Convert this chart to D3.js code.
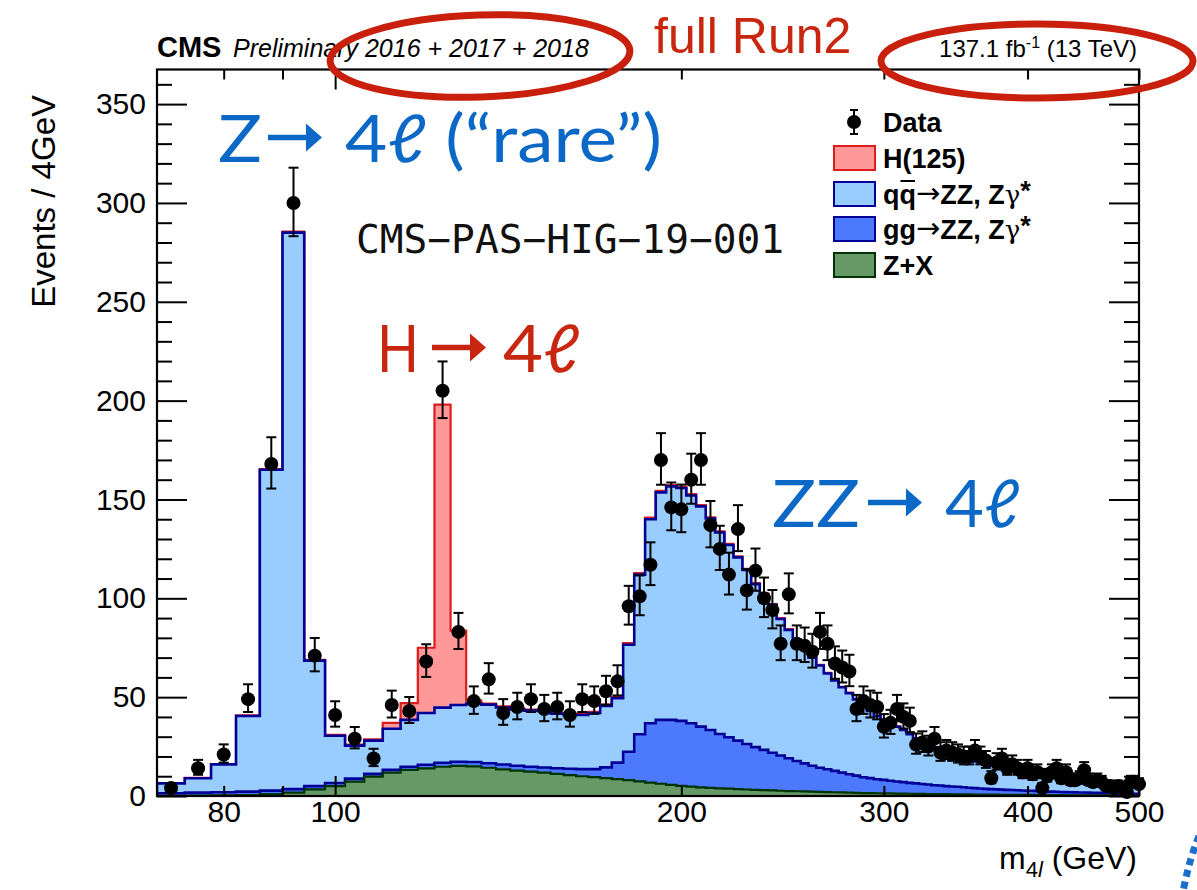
<!DOCTYPE html>
<html>
<head>
<meta charset="utf-8">
<script src="https://cdn.jsdelivr.net/npm/d3@7"></script>
<style>
  html, body { margin: 0; padding: 0; background: #ffffff; }
  svg { display: block; }
</style>
</head>
<body>
<svg id="chart" width="1197" height="890" font-family="'Liberation Sans', Arial, Helvetica, sans-serif"></svg>
<script>
// m4l histogram: 4 GeV bins starting at 70 GeV (108 bins, last one ends past 500)
const binLow = 70;
const binWidth = 4;

// Observed events per bin
const dataCounts = [
  4, 14, 21, 49, 168, 300, 71, 41, 29, 19,
  46, 43, 68, 205, 83, 48, 59, 42, 45, 49,
  44, 45, 41, 49, 48, 53, 58, 96, 101, 117,
  170, 146, 145, 160, 170, 137, 125, 112, 135, 104,
  114, 100, 94, 77, 102, 77, 76, 73, 83, 77,
  67, 65, 63, 44, 48, 46, 45, 35, 37, 44,
  40, 38, 26, 27, 25, 29, 22, 23, 22, 21,
  20, 20, 23, 20, 18, 9, 17, 19, 14, 16,
  14, 12, 14, 11, 12, 4, 10, 12, 14, 9,
  12, 8, 8, 9, 13, 8, 7, 8, 7, 5,
  5, 4, 5, 4, 2, 7, 7, 6
];

// Expected yields per process and bin
const zxYield = [
  0.1, 0.2, 0.3, 0.5, 0.9, 1.7, 3.4, 5.0, 7.3, 9.8,
  11.8, 13.2, 14.0, 14.8, 15.2, 15.0, 14.3, 13.5, 12.8, 12.3,
  11.8, 11.2, 10.6, 10.0, 9.5, 9.0, 8.5, 8.0, 7.4, 6.8,
  6.2, 5.6, 5.1, 4.7, 4.4, 4.1, 3.9, 3.7, 3.5, 3.3,
  3.1, 2.95, 2.8, 2.65, 2.5, 2.4, 2.3, 2.2, 2.1, 2.0,
  1.9, 1.8, 1.7, 1.6, 1.5, 1.45, 1.4, 1.35, 1.3, 1.25,
  1.2, 1.15, 1.1, 1.05, 1.0, 0.97, 0.94, 0.91, 0.88, 0.85,
  0.82, 0.79, 0.76, 0.73, 0.7, 0.68, 0.66, 0.64, 0.62, 0.6,
  0.58, 0.56, 0.54, 0.52, 0.5, 0.48, 0.46, 0.44, 0.42, 0.4,
  0.39, 0.38, 0.37, 0.36, 0.35, 0.34, 0.33, 0.32, 0.31, 0.3,
  0.29, 0.28, 0.27, 0.26, 0.25, 0.24, 0.23, 0.22
];

const ggYield = [
  1.3, 1.5, 1.6, 1.7, 1.8, 1.8, 1.6, 1.6, 1.5, 1.4,
  1.5, 1.6, 1.8, 2.0, 2.1, 2.2, 2.3, 2.4, 2.5, 2.5,
  2.6, 2.8, 3.2, 3.6, 4.1, 5.5, 8.4, 14.4, 23.8, 30.0,
  32.3, 32.9, 32.9, 32.1, 30.7, 29.3, 27.5, 26.0, 24.5, 23.0,
  21.6, 20.4, 19.1, 17.8, 16.6, 15.3, 14.2, 13.1, 12.2, 11.5,
  10.8, 10.0, 9.3, 8.7, 8.0, 7.6, 7.1, 6.8, 6.4, 6.1,
  5.8, 5.5, 5.3, 5.0, 4.8, 4.5, 4.4, 4.1, 3.9, 3.8,
  3.6, 3.4, 3.2, 3.1, 2.9, 2.8, 2.7, 2.6, 2.5, 2.4,
  2.3, 2.2, 2.15, 2.1, 2.0, 1.95, 1.85, 1.75, 1.7, 1.6,
  1.55, 1.5, 1.48, 1.44, 1.4, 1.36, 1.32, 1.28, 1.24, 1.2,
  1.16, 1.12, 1.08, 1.04, 1.0, 0.96, 0.92, 0.88
];

const qqYield = [
  5.0, 7.3, 14.1, 38.3, 162.3, 281.5, 63.5, 23.9, 16.7, 16.8,
  20.7, 23.7, 26.2, 27.9, 28.7, 29.6, 29.6, 28.9, 28.5, 28.4,
  28.6, 27.6, 27.2, 27.4, 28.4, 31.1, 32.6, 54.1, 80.8, 103.2,
  115.1, 118.1, 117.8, 115.2, 111.4, 107.0, 101.9, 97.3, 92.7, 88.1,
  82.5, 78.7, 74.8, 69.1, 64.9, 61.3, 58.0, 54.7, 51.7, 48.5,
  45.8, 43.2, 41.0, 38.5, 36.3, 34.0, 32.0, 30.4, 28.8, 27.7,
  26.4, 24.6, 22.8, 21.6, 20.3, 19.2, 18.1, 17.2, 16.3, 15.5,
  14.8, 14.1, 13.5, 12.9, 12.4, 11.8, 11.2, 10.8, 10.3, 9.8,
  9.4, 9.0, 8.6, 8.3, 8.0, 7.7, 7.4, 7.2, 7.0, 6.8,
  6.6, 6.3, 6.1, 5.8, 5.6, 5.3, 5.2, 5.0, 4.9, 4.7,
  4.6, 4.4, 4.3, 4.1, 4.0, 3.8, 3.7, 3.7
];

const higgsYield = [
  0.1, 0.15, 0.2, 0.3, 0.4, 0.5, 0.4, 0.4, 0.5, 0.6,
  3.0, 8.5, 33.0, 153.3, 37.7, 1.4, 0.6, 0.5, 0.5, 0.5,
  0.5, 0.5, 0.5, 0.6, 0.6, 0.6, 0.7, 0.8, 0.8, 0.8,
  0.8, 0.7, 0.7, 0.7, 0.6, 0.6, 0.6, 0.5, 0.5, 0.5,
  0.5, 0.4, 0.4, 0.4, 0.4, 0.35, 0.35, 0.3, 0.3, 0.3,
  0.3, 0.25, 0.25, 0.25, 0.2, 0.2, 0.2, 0.2, 0.2, 0.15,
  0.15, 0.15, 0.15, 0.15, 0.15, 0.15, 0.15, 0.15, 0.15, 0.15,
  0.1, 0.1, 0.1, 0.1, 0.1, 0.1, 0.1, 0.1, 0.1, 0.1,
  0.1, 0.1, 0.1, 0.1, 0.1, 0.1, 0.1, 0.1, 0.1, 0.1,
  0.1, 0.1, 0.1, 0.1, 0.1, 0.1, 0.1, 0.1, 0.1, 0.1,
  0.1, 0.1, 0.1, 0.1, 0.1, 0.1, 0.1, 0.1
];

// Axis ticks
const xMassRange = [70, 500];
const xLabelTicks = [80, 200, 300, 400, 500];
const xShortTicks = [80, 90, 200, 300, 400, 500];
const xLongTicks = [100];
const yMax = 367.5;
const yMajorTicks = [0, 50, 100, 150, 200, 250, 300, 350];
const yMinorTicks = [10, 20, 30, 40, 60, 70, 80, 90, 110, 120, 130, 140, 160, 170, 180, 190,
                     210, 220, 230, 240, 260, 270, 280, 290, 310, 320, 330, 340, 360];

// Processes, bottom of the stack first
const processKeys = ["zx", "gg", "qq", "h"];
const processStyle = {
  h:  { fill: "#ff9999", stroke: "#dd1c1c", width: 2.2 },
  qq: { fill: "#99ccff", stroke: "#000099", width: 2.6 },
  gg: { fill: "#4d79ff", stroke: "#000099", width: 2.6 },
  zx: { fill: "#669966", stroke: "#003300", width: 2.2 }
};

const svg = d3.select("#chart");
const plot = { left: 157, right: 1139, top: 69.5, bottom: 796 };

const x = d3.scaleLog().domain(xMassRange).range([plot.left, plot.right]);
const y = d3.scaleLinear().domain([0, yMax]).range([plot.bottom, plot.top]);

svg.append("rect").attr("width", 1197).attr("height", 890).attr("fill", "#ffffff");

svg.append("defs").append("clipPath").attr("id", "plotClip")
  .append("rect")
  .attr("x", plot.left).attr("y", plot.top)
  .attr("width", plot.right - plot.left).attr("height", plot.bottom - plot.top);

// Per-bin records, stacked by process
const bins = dataCounts.map((n, i) => ({
  lo: binLow + i * binWidth,
  hi: binLow + (i + 1) * binWidth,
  center: binLow + (i + 0.5) * binWidth,
  n: n,
  zx: zxYield[i], gg: ggYield[i], qq: qqYield[i], h: higgsYield[i]
}));

const layers = d3.stack().keys(processKeys)(bins);

function stepPoints(layer) {
  const pts = [];
  layer.forEach((d, i) => {
    pts.push([bins[i].lo, d[1]]);
    pts.push([bins[i].hi, d[1]]);
  });
  return pts;
}

const stepArea = d3.area().x(p => x(p[0])).y0(y(0)).y1(p => y(p[1]));
const stepLine = d3.line().x(p => x(p[0])).y(p => y(p[1]));

const histG = svg.append("g").attr("clip-path", "url(#plotClip)");

// Cumulative histograms drawn from the total downwards
layers.slice().reverse().forEach(layer => {
  const st = processStyle[layer.key];
  const pts = stepPoints(layer);
  histG.append("path")
    .attr("d", stepArea(pts))
    .attr("fill", st.fill);
  const outline = [[bins[0].lo, 0]].concat(pts, [[bins[bins.length - 1].hi, 0]]);
  histG.append("path")
    .attr("d", stepLine(outline))
    .attr("fill", "none")
    .attr("stroke", st.stroke)
    .attr("stroke-width", st.width);
});

// Axes (ticks point inwards, mirrored on top and right)
function styleAxis(g, showLabels) {
  g.select(".domain").remove();
  g.attr("font-family", null);
  g.selectAll(".tick line").attr("stroke", "#000").attr("stroke-width", 2);
  g.selectAll(".tick text").attr("fill", "#000").attr("font-size", 30);
  if (!showLabels) g.selectAll(".tick text").remove();
}

const yFmt = d3.format("d");
svg.append("g").attr("transform", `translate(${plot.left},0)`)
  .call(d3.axisLeft(y).tickValues(yMajorTicks).tickSize(-30).tickPadding(11).tickFormat(yFmt))
  .call(g => styleAxis(g, true));
svg.append("g").attr("transform", `translate(${plot.left},0)`)
  .call(d3.axisLeft(y).tickValues(yMinorTicks).tickSize(-15).tickFormat(""))
  .call(g => styleAxis(g, false));
svg.append("g").attr("transform", `translate(${plot.right},0)`)
  .call(d3.axisRight(y).tickValues(yMajorTicks).tickSize(-30).tickFormat(""))
  .call(g => styleAxis(g, false));
svg.append("g").attr("transform", `translate(${plot.right},0)`)
  .call(d3.axisRight(y).tickValues(yMinorTicks).tickSize(-15).tickFormat(""))
  .call(g => styleAxis(g, false));

const labelSet = new Set(xLabelTicks);
svg.append("g").attr("transform", `translate(0,${plot.bottom})`)
  .call(d3.axisBottom(x).tickValues(xShortTicks).tickSize(-10).tickPadding(5)
    .tickFormat(d => labelSet.has(d) ? String(d) : ""))
  .call(g => styleAxis(g, true));
svg.append("g").attr("transform", `translate(0,${plot.bottom})`)
  .call(d3.axisBottom(x).tickValues(xLongTicks).tickSize(-20).tickPadding(5)
    .tickFormat(d => String(d)))
  .call(g => styleAxis(g, true));
svg.append("g").attr("transform", `translate(0,${plot.top})`)
  .call(d3.axisTop(x).tickValues(xShortTicks).tickSize(-10).tickFormat(""))
  .call(g => styleAxis(g, false));
svg.append("g").attr("transform", `translate(0,${plot.top})`)
  .call(d3.axisTop(x).tickValues(xLongTicks).tickSize(-20).tickFormat(""))
  .call(g => styleAxis(g, false));

// Frame
svg.append("rect")
  .attr("x", plot.left).attr("y", plot.top)
  .attr("width", plot.right - plot.left).attr("height", plot.bottom - plot.top)
  .attr("fill", "none").attr("stroke", "#000").attr("stroke-width", 2.2);

// Data points with Poisson error bars
const dataG = svg.append("g");
const capHalf = 5;
bins.forEach(b => {
  const lo = b.n + 0.5 - Math.sqrt(b.n + 0.25);
  const hi = b.n + 0.5 + Math.sqrt(b.n + 0.25);
  const cx = x(Math.min(b.center, xMassRange[1]));
  dataG.append("line")
    .attr("x1", cx).attr("x2", cx).attr("y1", y(lo)).attr("y2", y(hi))
    .attr("stroke", "#000").attr("stroke-width", 2);
  [lo, hi].forEach(v => {
    dataG.append("line")
      .attr("x1", cx - capHalf).attr("x2", cx + capHalf)
      .attr("y1", y(v)).attr("y2", y(v))
      .attr("stroke", "#000").attr("stroke-width", 2);
  });
  dataG.append("circle").attr("cx", cx).attr("cy", y(b.n)).attr("r", 7).attr("fill", "#000");
});

// Axis titles
svg.append("text")
  .attr("transform", "translate(55,95) rotate(-90)")
  .attr("text-anchor", "end")
  .attr("font-size", 33)
  .text("Events / 4GeV");

const xTitle = svg.append("text")
  .attr("x", 1137).attr("y", 869)
  .attr("text-anchor", "end")
  .attr("font-size", 32);
xTitle.append("tspan").text("m");
xTitle.append("tspan").attr("font-size", 22).attr("dy", 8).text("4");
xTitle.append("tspan").attr("font-size", 22).attr("font-style", "italic").text("l");
xTitle.append("tspan").attr("dy", -8).text(" (GeV)");

// Header
svg.append("text").attr("x", 157).attr("y", 57)
  .attr("font-size", 29).attr("font-weight", "bold").text("CMS");
svg.append("text").attr("x", 233).attr("y", 57)
  .attr("font-size", 25).attr("font-style", "italic")
  .text("Preliminary 2016 + 2017 + 2018");

const lumi = svg.append("text").attr("x", 1137).attr("y", 57)
  .attr("text-anchor", "end").attr("font-size", 24);
lumi.append("tspan").text("137.1 fb");
lumi.append("tspan").attr("font-size", 16).attr("dy", -9).text("-1");
lumi.append("tspan").attr("dy", 9).text(" (13 TeV)");

svg.append("text").attr("x", 654).attr("y", 53)
  .attr("font-size", 50).attr("fill", "#c8260e").text("full Run2");

// Legend
const legend = svg.append("g");
const legendX = 833, legendTextX = 883;
const legendRowY = [122, 158, 194, 229, 265];
const legendFont = 27;

legend.append("line").attr("x1", 854).attr("x2", 854).attr("y1", 110).attr("y2", 134)
  .attr("stroke", "#000").attr("stroke-width", 2);
[110, 134].forEach(v => legend.append("line")
  .attr("x1", 850).attr("x2", 858).attr("y1", v).attr("y2", v)
  .attr("stroke", "#000").attr("stroke-width", 2));
legend.append("circle").attr("cx", 854).attr("cy", 122).attr("r", 7).attr("fill", "#000");

const boxKeys = ["h", "qq", "gg", "zx"];
boxKeys.forEach((k, i) => {
  const st = processStyle[k];
  legend.append("rect")
    .attr("x", legendX + 1).attr("y", legendRowY[i + 1] - 12)
    .attr("width", 41).attr("height", 24)
    .attr("fill", st.fill).attr("stroke", st.stroke).attr("stroke-width", 2);
});

function legendText(row) {
  return legend.append("text")
    .attr("x", legendTextX).attr("y", legendRowY[row] + 10)
    .attr("font-size", legendFont).attr("font-weight", "bold");
}
legendText(0).text("Data");
legendText(1).text("H(125)");

function processLabel(row, initial) {
  const t = legendText(row);
  t.append("tspan").text(initial);
  t.append("tspan").attr("font-family", "'DejaVu Sans', sans-serif")
    .attr("font-weight", "normal").attr("font-size", 29).attr("dy", -1).text("\u2192");
  t.append("tspan").attr("dy", 1).text("ZZ, Z");
  t.append("tspan").attr("font-weight", "normal").attr("font-family", "'DejaVu Serif', serif")
    .attr("font-size", 26).text("\u03b3");
  t.append("tspan").attr("dy", -4).text("*");
  return t;
}
const qqText = processLabel(2, "qq");
processLabel(3, "gg");
legendText(4).text("Z+X");

// anti-quark bar over the second q
const qBox = qqText.node().getExtentOfChar(1);
legend.append("line")
  .attr("x1", qBox.x + 1).attr("x2", qBox.x + qBox.width - 1)
  .attr("y1", legendRowY[2] - 13).attr("y2", legendRowY[2] - 13)
  .attr("stroke", "#000").attr("stroke-width", 2);

// Annotations: word, bold arrow, then the final state
const annFont = "Lato, 'Noto Sans', 'DejaVu Sans', sans-serif";
const blueNote = "#0b68c6";
const redNote = "#c8260e";

function arrowPath(x0, x1, yc) {
  const shaft = 5.5, headLen = 16, headHalf = 14;
  return `M${x0},${yc - shaft / 2} L${x1 - headLen},${yc - shaft / 2} L${x1 - headLen},${yc - headHalf}` +
         ` L${x1},${yc} L${x1 - headLen},${yc + headHalf} L${x1 - headLen},${yc + shaft / 2}` +
         ` L${x0},${yc + shaft / 2} Z`;
}

function annotation(opts) {
  const g = svg.append("g").attr("fill", opts.color)
    .attr("font-family", annFont).attr("font-size", 66);
  g.append("text").attr("x", opts.headX).attr("y", opts.baseline)
    .attr("textLength", opts.headW).attr("lengthAdjust", "spacingAndGlyphs")
    .text(opts.head);
  g.append("path").attr("d", arrowPath(opts.arrow[0], opts.arrow[1], opts.baseline - 24.5));
  g.append("text").attr("x", opts.tailX).attr("y", opts.baseline)
    .attr("textLength", opts.tailW).attr("lengthAdjust", "spacingAndGlyphs")
    .text(opts.tail);
}

annotation({ color: blueNote, baseline: 162, head: "Z", headX: 218, headW: 44,
             arrow: [268, 322], tail: "4\u2113 (\u201crare\u201d)", tailX: 345, tailW: 317 });
annotation({ color: redNote, baseline: 372, head: "H", headX: 377, headW: 42,
             arrow: [432, 486], tail: "4\u2113", tailX: 503, tailW: 77 });
annotation({ color: blueNote, baseline: 527, head: "ZZ", headX: 772, headW: 88,
             arrow: [868, 922], tail: "4\u2113", tailX: 945, tailW: 75 });

svg.append("text").attr("x", 356).attr("y", 253)
  .attr("font-family", "'DejaVu Sans Mono', 'Liberation Mono', monospace")
  .attr("font-size", 39.5).attr("fill", "#111")
  .text("CMS\u2212PAS\u2212HIG\u221219\u2212001");

// Hand-drawn highlight rings
const ringColor = "#c8200c";
svg.append("ellipse")
  .attr("cx", 480).attr("cy", 56).attr("rx", 150).attr("ry", 41)
  .attr("transform", "rotate(-2 480 56)")
  .attr("fill", "none").attr("stroke", ringColor).attr("stroke-width", 7);
svg.append("ellipse")
  .attr("cx", 1037).attr("cy", 61).attr("rx", 156).attr("ry", 37)
  .attr("fill", "none").attr("stroke", ringColor).attr("stroke-width", 7);

// dotted arc in the lower-right corner
svg.append("path")
  .attr("d", "M1199,836 Q1189,860 1183,892")
  .attr("fill", "none").attr("stroke", "#1a6fcc").attr("stroke-width", 7)
  .attr("stroke-dasharray", "7,5");
</script>
</body>
</html>
